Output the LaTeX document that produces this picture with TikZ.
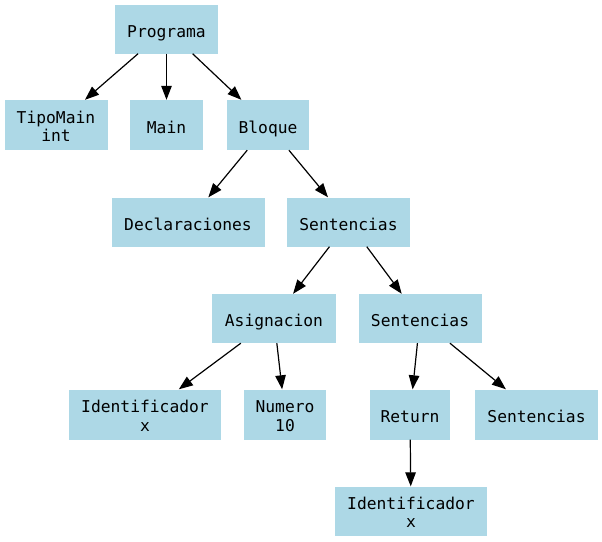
\documentclass[tikz,border=0pt]{standalone}
\usepackage{fontspec}
\setmonofont{DejaVu Sans Mono}
\usetikzlibrary{arrows.meta}
\definecolor{lb}{RGB}{173,216,230}
\begin{document}
\begin{tikzpicture}[x=1pt,y=-1pt,
  box/.style={fill=lb, draw=none, rectangle, inner sep=0pt, minimum height=49pt,
    align=center, font=\ttfamily\fontsize{16.3}{18.4}\selectfont,
    text height=16pt, text depth=0pt},
  twoline/.style={text height=33.4pt, text depth=0pt},
  edge/.style={draw=black, line width=1.2pt, -{Triangle[length=14pt,width=10.5pt]}}]
\useasboundingbox (0,0) rectangle (602,541);
\node[box, minimum width=103pt] (prog) at (166.5,29) {Programa};
\node[box, twoline, minimum width=103pt, minimum height=50pt] (tipo) at (56,125) {TipoMain\\int};
\node[box, minimum width=73pt, minimum height=50pt] (main) at (166.5,125) {Main};
\node[box, minimum width=82pt, minimum height=50pt] (bloque) at (268,125) {Bloque};
\node[box, minimum width=153pt] (decl) at (188,222) {Declaraciones};
\node[box, minimum width=123pt] (sent1) at (348.5,222) {Sentencias};
\node[box, minimum width=124pt] (asig) at (274,318.5) {Asignacion};
\node[box, minimum width=123pt] (sent2) at (420,318.5) {Sentencias};
\node[box, twoline, minimum width=152pt, minimum height=50pt] (id1) at (145,414.5) {Identificador\\x};
\node[box, twoline, minimum width=82pt, minimum height=50pt] (num) at (285,414.5) {Numero\\10};
\node[box, minimum width=80pt, minimum height=50pt] (ret) at (410,414.5) {Return};
\node[box, minimum width=123pt, minimum height=50pt] (sent3) at (536.5,414.5) {Sentencias};
\node[box, twoline, minimum width=152pt] (id2) at (411,511) {Identificador\\x};
\draw[edge] (prog) -- (tipo);
\draw[edge] (prog) -- (main);
\draw[edge] (prog) -- (bloque);
\draw[edge] (bloque) -- (decl);
\draw[edge] (bloque) -- (sent1);
\draw[edge] (sent1) -- (asig);
\draw[edge] (sent1) -- (sent2);
\draw[edge] (asig) -- (id1);
\draw[edge] (asig) -- (num);
\draw[edge] (sent2) -- (ret);
\draw[edge] (sent2) -- (sent3);
\draw[edge] (ret) -- (id2);
\end{tikzpicture}
\end{document}
